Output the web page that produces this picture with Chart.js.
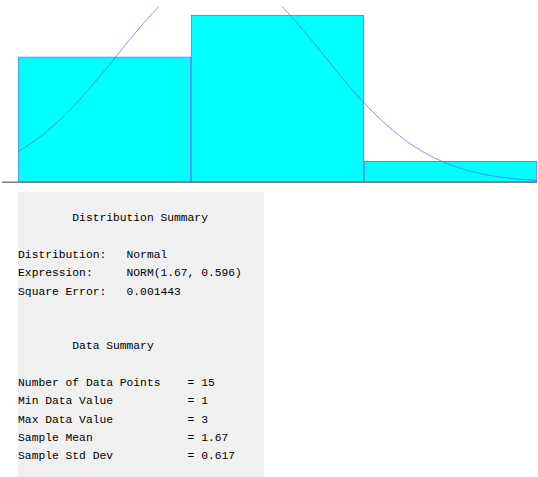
<!DOCTYPE html>
<html>
<head>
<meta charset="utf-8">
<title>Distribution Summary</title>
<script src="https://cdn.jsdelivr.net/npm/chart.js@4/dist/chart.umd.min.js"></script>
<style>
  html, body { margin: 0; padding: 0; background: #ffffff; }
  body { width: 538px; height: 477px; position: relative; overflow: hidden; }
  #hist { position: absolute; left: 0; top: 0; }
  #summary {
    position: absolute; left: 17.5px; top: 192px; width: 246.5px; height: 285px;
    background: #f0f0f0; margin: 0; box-sizing: border-box;
    padding: 17.4px 0 0 0.6px;
    font-family: "Liberation Mono", "DejaVu Sans Mono", monospace;
    font-size: 11.3px; line-height: 18.3px; color: #000000;
    white-space: pre;
  }
</style>
</head>
<body>
<canvas id="hist" width="538" height="190"></canvas>
<pre id="summary"></pre>
<script>
// Histogram cells (data values 1, 2, 3) and their observation counts
const categories = ['1', '2', '3'];
const counts = [6, 8, 1];
const numberOfPoints = 15;

// Fitted density NORM(1.67, 0.596), tabulated at 0.1 steps over 0.5 .. 3.5
const curveX = [0.5, 0.6, 0.7, 0.8, 0.9, 1.0, 1.1, 1.2, 1.3, 1.4, 1.5, 1.6, 1.7, 1.8, 1.9, 2.0,
                2.1, 2.2, 2.3, 2.4, 2.5, 2.6, 2.7, 2.8, 2.9, 3.0, 3.1, 3.2, 3.3, 3.4, 3.5];
const curveY = [0.0975, 0.1336, 0.1780, 0.2307, 0.2905, 0.3558, 0.4237, 0.4905, 0.5521, 0.6041,
                0.6427, 0.6648, 0.6685, 0.6536, 0.6213, 0.5742, 0.5160, 0.4508, 0.3829, 0.3162,
                0.2538, 0.1981, 0.1504, 0.1110, 0.0796, 0.0555, 0.0376, 0.0248, 0.0159, 0.0099,
                0.0060];

// Summary text
const summaryLines = [
  '        Distribution Summary',
  '',
  'Distribution:   Normal',
  'Expression:     NORM(1.67, 0.596)',
  'Square Error:   0.001443',
  '',
  '',
  '        Data Summary',
  '',
  'Number of Data Points    = 15',
  'Min Data Value           = 1',
  'Max Data Value           = 3',
  'Sample Mean              = 1.67',
  'Sample Std Dev           = 0.617'
];
document.getElementById('summary').textContent = summaryLines.join('\n');

const proportions = counts.map(c => c / numberOfPoints);
const curvePoints = curveX.map((x, i) => ({ x: x, y: curveY[i] }));

// Base line under the bars, drawn half-transparent over them
const baseLine = {
  id: 'baseLine',
  afterDatasetsDraw(chart) {
    const { ctx, chartArea } = chart;
    const y = chart.scales.y.getPixelForValue(0);
    ctx.save();
    ctx.strokeStyle = 'rgba(0,0,0,0.5)';
    ctx.lineWidth = 1.5;
    ctx.beginPath();
    ctx.moveTo(2, y);
    ctx.lineTo(chartArea.right, y);
    ctx.stroke();
    ctx.restore();
  }
};

new Chart(document.getElementById('hist'), {
  data: {
    labels: categories,
    datasets: [
      {
        type: 'bar',
        data: proportions,
        backgroundColor: '#00ffff',
        borderColor: 'rgba(70,70,255,0.75)',
        borderWidth: 1,
        barPercentage: 1,
        categoryPercentage: 1,
        grouped: false,
        order: 2
      },
      {
        type: 'line',
        data: curvePoints,
        xAxisID: 'xc',
        borderColor: 'rgba(80,80,255,0.65)',
        borderWidth: 1,
        pointRadius: 0,
        tension: 0.4,
        cubicInterpolationMode: 'monotone',
        fill: false,
        clip: 0,
        order: 1
      }
    ]
  },
  options: {
    responsive: false,
    animation: false,
    devicePixelRatio: 1,
    layout: { padding: { left: 18, right: 1, top: 6.6, bottom: 7.7 } },
    plugins: { legend: { display: false }, tooltip: { enabled: false } },
    scales: {
      x: { type: 'category', offset: true, display: false },
      xc: { type: 'linear', min: 0.5, max: 3.5, display: false },
      y: { type: 'linear', min: 0, max: 0.56, display: false }
    }
  },
  plugins: [baseLine]
});
</script>
</body>
</html>
